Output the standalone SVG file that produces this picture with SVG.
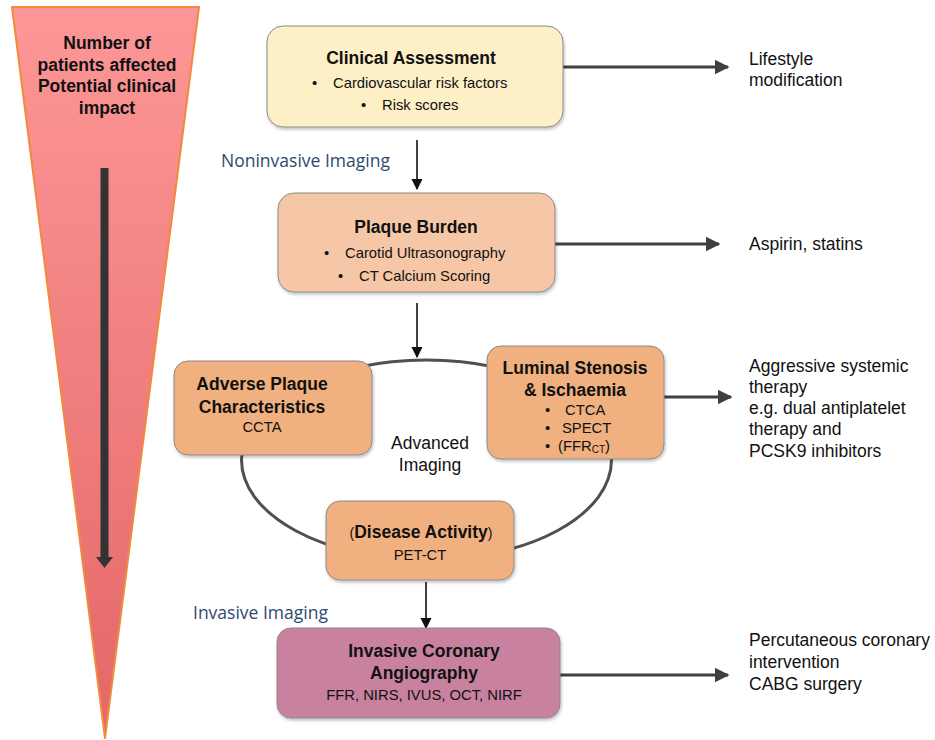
<svg xmlns="http://www.w3.org/2000/svg" width="935" height="740" viewBox="0 0 935 740">
<defs>
<linearGradient id="tri" x1="0" y1="0" x2="0" y2="1">
<stop offset="0" stop-color="#fd9797"/>
<stop offset="1" stop-color="#e46767"/>
</linearGradient>
<marker id="ah" viewBox="0 0 10 10" refX="9" refY="5" markerWidth="5" markerHeight="5" orient="auto" markerUnits="strokeWidth">
<path d="M0,0 L10,5 L0,10 z" fill="#404040"/>
</marker>
<marker id="ahs" viewBox="0 0 10 10" refX="9" refY="5" markerWidth="7" markerHeight="7" orient="auto" markerUnits="strokeWidth">
<path d="M0,0 L10,5 L0,10 z" fill="#111"/>
</marker>
<filter id="sh" x="-10%" y="-10%" width="120%" height="130%">
<feDropShadow dx="1" dy="2" stdDeviation="1.5" flood-color="#000" flood-opacity="0.25"/>
</filter>
<style>
.t{font-family:"Liberation Sans",Arial,sans-serif;fill:#111}
.b{font-weight:bold;font-size:17.5px}
.s{font-size:14.8px}
.r{font-size:17.5px}
.blue{font-family:"Open Sans","Noto Sans",sans-serif;font-size:17.5px;fill:#2e4a70}
.box{stroke:#8a8a8a;stroke-width:1;filter:url(#sh)}
.big{fill:none;stroke:#404040;stroke-width:3;marker-end:url(#ah)}
.thin{fill:none;stroke:#111;stroke-width:1.6;marker-end:url(#ahs)}
</style>
</defs>
<rect width="935" height="740" fill="#fff"/>

<g id="funnel">
<polygon points="12,7 199,7 105,738" fill="url(#tri)" stroke="#f08a3c" stroke-width="2" stroke-linejoin="round"/>
<text class="t b" text-anchor="middle" x="107" y="49">Number of</text>
<text class="t b" text-anchor="middle" x="107" y="71">patients affected</text>
<text class="t b" text-anchor="middle" x="107" y="92">Potential clinical</text>
<text class="t b" text-anchor="middle" x="107" y="114">impact</text>
<rect x="100.5" y="168" width="8" height="390" fill="#333"/>
<polygon points="96,557 113,557 104.5,568" fill="#333"/>
</g>

<g id="cycle">
<ellipse cx="426.5" cy="460" rx="185" ry="100" fill="none" stroke="#505050" stroke-width="3"/>
</g>

<g id="connectors">
<line class="big" x1="563" y1="67" x2="728" y2="67"/>
<line class="big" x1="555" y1="244" x2="719" y2="244"/>
<line class="big" x1="664" y1="397" x2="731" y2="397"/>
<line class="big" x1="560" y1="675" x2="728" y2="675"/>
<line class="thin" x1="417" y1="140" x2="417" y2="189"/>
<line class="thin" x1="417" y1="303" x2="417" y2="357"/>
<line class="thin" x1="426" y1="582" x2="426" y2="628"/>
</g>

<g id="clinical">
<rect class="box" x="267" y="26" width="296" height="101" rx="16" fill="#fdefc6"/>
<text class="t b" text-anchor="middle" x="411" y="64">Clinical Assessment</text>
<text class="t s" x="312" y="88">•</text>
<text class="t s" x="333" y="88">Cardiovascular risk factors</text>
<text class="t s" x="361" y="110">•</text>
<text class="t s" x="382" y="110">Risk scores</text>
</g>

<g id="plaque">
<rect class="box" x="278" y="193" width="277" height="99" rx="16" fill="#f6c7a6"/>
<text class="t b" text-anchor="middle" x="416" y="233">Plaque Burden</text>
<text class="t s" x="324" y="258">•</text>
<text class="t s" x="345" y="258">Carotid Ultrasonography</text>
<text class="t s" x="338" y="281">•</text>
<text class="t s" x="359" y="281">CT Calcium Scoring</text>
</g>

<g id="adverse">
<rect class="box" x="174" y="361" width="198" height="94" rx="14" fill="#f0b07f"/>
<text class="t b" text-anchor="middle" x="262" y="390">Adverse Plaque</text>
<text class="t b" text-anchor="middle" x="262" y="413">Characteristics</text>
<text class="t s" text-anchor="middle" x="262" y="432">CCTA</text>
</g>

<g id="luminal">
<rect class="box" x="487" y="346" width="177" height="113" rx="14" fill="#f0b07f"/>
<text class="t b" text-anchor="middle" x="575" y="374">Luminal Stenosis</text>
<text class="t b" text-anchor="middle" x="575" y="396">&amp; Ischaemia</text>
<text class="t s" x="545" y="415">•</text>
<text class="t s" x="565" y="415">CTCA</text>
<text class="t s" x="545" y="433">•</text>
<text class="t s" x="562" y="433">SPECT</text>
<text class="t s" x="545" y="451">•</text>
<text class="t s" x="558" y="451">(FFR<tspan font-size="10" dy="2">CT</tspan><tspan dy="-2">)</tspan></text>
</g>

<g id="advanced">
<text class="t r" text-anchor="middle" x="430" y="449">Advanced</text>
<text class="t r" text-anchor="middle" x="430" y="471">Imaging</text>
</g>

<g id="disease">
<rect class="box" x="326" y="501" width="188" height="79" rx="14" fill="#f0b07f"/>
<text class="t b" text-anchor="middle" x="421" y="538"><tspan font-weight="normal" font-size="14">(</tspan>Disease Activity<tspan font-weight="normal" font-size="14">)</tspan></text>
<text class="t s" text-anchor="middle" x="420" y="560">PET-CT</text>
</g>

<g id="invasive">
<rect class="box" x="277" y="628" width="283" height="90" rx="14" fill="#c8829f"/>
<text class="t b" text-anchor="middle" x="424" y="657">Invasive Coronary</text>
<text class="t b" text-anchor="middle" x="424" y="679">Angiography</text>
<text class="t s" text-anchor="middle" x="424" y="700">FFR, NIRS, IVUS, OCT, NIRF</text>
</g>

<g id="labels">
<text class="blue" x="221" y="167">Noninvasive Imaging</text>
<text class="blue" x="193" y="619">Invasive Imaging</text>
</g>

<g id="outcomes">
<text class="t r" x="749" y="65">Lifestyle</text>
<text class="t r" x="749" y="86">modification</text>
<text class="t r" x="749" y="250">Aspirin, statins</text>
<text class="t r" x="749" y="372">Aggressive systemic</text>
<text class="t r" x="749" y="393">therapy</text>
<text class="t r" x="749" y="414">e.g. dual antiplatelet</text>
<text class="t r" x="749" y="435">therapy and</text>
<text class="t r" x="749" y="457">PCSK9 inhibitors</text>
<text class="t r" x="749" y="646">Percutaneous coronary</text>
<text class="t r" x="749" y="668">intervention</text>
<text class="t r" x="749" y="690">CABG surgery</text>
</g>
</svg>
